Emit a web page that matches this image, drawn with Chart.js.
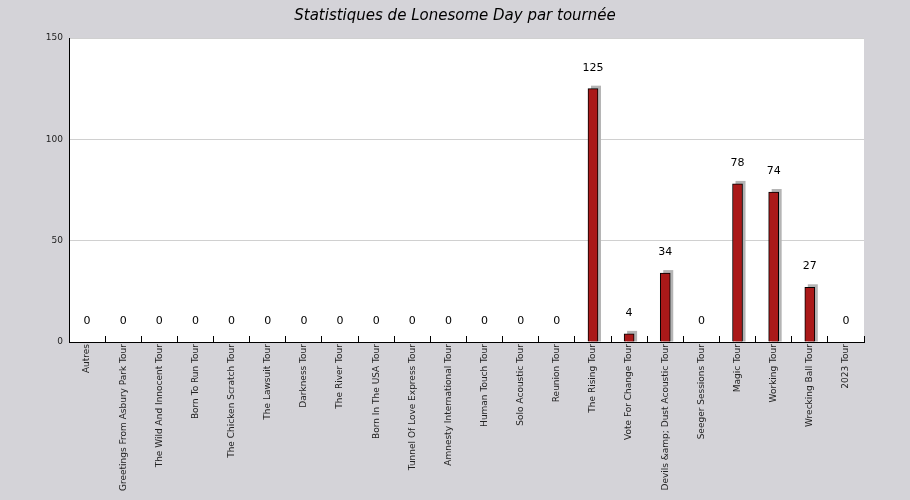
<!DOCTYPE html>
<html>
<head>
<meta charset="utf-8">
<script src="https://cdn.jsdelivr.net/npm/chart.js@4"></script>
<style>
  html, body { margin: 0; padding: 0; background: #d4d3d8; }
  #wrap { width: 910px; height: 500px; }
</style>
</head>
<body>
<div id="wrap"><canvas id="chart"></canvas></div>
<script>
// Tour names and Lonesome Day counts
const tours = ['Autres', 'Greetings From Asbury Park Tour', 'The Wild And Innocent Tour', 'Born To Run Tour',
  'The Chicken Scratch Tour', 'The Lawsuit Tour', 'Darkness Tour', 'The River Tour', 'Born In The USA Tour',
  'Tunnel Of Love Express Tour', 'Amnesty International Tour', 'Human Touch Tour', 'Solo Acoustic Tour',
  'Reunion Tour', 'The Rising Tour', 'Vote For Change Tour', 'Devils &amp; Dust Acoustic Tour',
  'Seeger Sessions Tour', 'Magic Tour', 'Working Tour', 'Wrecking Ball Tour', '2023 Tour'];
const counts = [0, 0, 0, 0, 0, 0, 0, 0, 0, 0, 0, 0, 0, 0, 125, 4, 34, 0, 78, 74, 27, 0];
const yTicks = [0, 50, 100, 150];

// white plot area, title, bar shadows and value labels
const decor = {
  id: 'decor',
  beforeDraw(chart) {
    const { ctx, chartArea: a } = chart;
    ctx.save();
    ctx.fillStyle = '#ffffff';
    ctx.fillRect(a.left, a.top, a.right - a.left, a.bottom - a.top);
    ctx.fillStyle = '#000';
    ctx.font = 'italic 15px "DejaVu Sans"';
    ctx.textAlign = 'center';
    ctx.textBaseline = 'middle';
    ctx.fillText('Statistiques de Lonesome Day par tournée', 455, 16);
    ctx.restore();
  },
  beforeDatasetsDraw(chart) {
    const { ctx } = chart;
    const meta = chart.getDatasetMeta(0);
    ctx.save();
    ctx.fillStyle = '#b4b4b4';
    meta.data.forEach((bar, i) => {
      if (!counts[i]) return;
      const w = bar.width;
      ctx.fillRect(bar.x - w / 2 + 3, bar.y - 3, w, bar.base - bar.y + 3);
    });
    ctx.restore();
  },
  afterDatasetsDraw(chart) {
    const { ctx } = chart;
    const meta = chart.getDatasetMeta(0);
    const base = chart.scales.y.getPixelForValue(0);
    ctx.save();
    ctx.fillStyle = '#000';
    ctx.font = '11px "DejaVu Sans"';
    ctx.textAlign = 'center';
    ctx.textBaseline = 'middle';
    meta.data.forEach((bar, i) => {
      const y = counts[i] ? bar.y - 21 : base - 21;
      ctx.fillText(String(counts[i]), bar.x, y);
    });
    ctx.restore();
  }
};

new Chart(document.getElementById('chart'), {
  type: 'bar',
  data: {
    labels: tours,
    datasets: [{
      data: counts,
      backgroundColor: '#aa1919',
      borderColor: '#000000',
      borderWidth: 1,
      barThickness: 10
    }]
  },
  options: {
    responsive: true,
    maintainAspectRatio: false,
    animation: false,
    layout: { padding: { top: 38, right: 46, left: 0, bottom: 0 } },
    plugins: { legend: { display: false }, tooltip: { enabled: false } },
    scales: {
      x: {
        afterFit(s) { s.height = 158; },
        grid: { display: true, offset: true, drawOnChartArea: false, tickLength: -6, color: '#000' },
        border: { color: '#000', width: 1 },
        ticks: {
          autoSkip: false, maxRotation: 90, minRotation: 90,
          font: { family: 'DejaVu Sans', size: 9 }, color: '#222', padding: 8
        }
      },
      y: {
        min: 0, max: 150,
        afterFit(s) { s.width = 69; },
        afterBuildTicks(s) { s.ticks = yTicks.map(v => ({ value: v })); },
        grid: { color: '#d0d0d0', tickLength: 4, drawTicks: false },
        border: { color: '#000', width: 1 },
        ticks: { font: { family: 'DejaVu Sans', size: 9 }, color: '#222', padding: 6 }
      }
    }
  },
  plugins: [decor]
});
</script>
</body>
</html>
